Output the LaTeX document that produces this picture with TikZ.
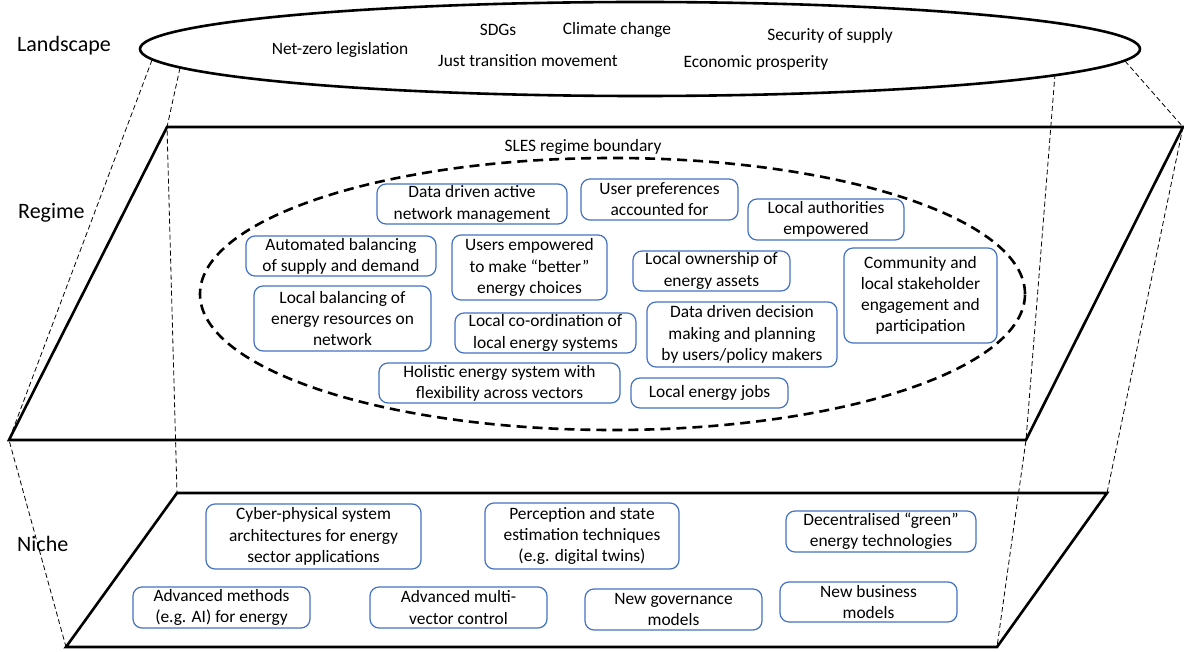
\documentclass[tikz,border=0pt]{standalone}
\usepackage{fontspec}
\setmainfont{Carlito}
\usetikzlibrary{shapes.geometric}
\definecolor{boxblue}{RGB}{68,114,196}
\begin{document}
\begin{tikzpicture}[x=1pt,y=-1pt,
  every node/.style={font=\fontsize{17.4}{21.2}\selectfont},
  levellabel/.style={font=\fontsize{22}{26}\selectfont, anchor=base west, inner sep=0pt},
  driver/.style={anchor=base, inner sep=0pt},
  item/.style={draw=boxblue, line width=1.2pt, rounded corners=9pt, align=center, inner sep=0pt},
  layer/.style={line width=2.6pt, line join=miter},
  guide/.style={line width=0.8pt, dash pattern=on 5pt off 3pt},
  boundary/.style={line width=2.6pt, dash pattern=on 10pt off 6pt}]

% canvas
\fill[white] (0,0) rectangle (1184,652);
\useasboundingbox (0,0) rectangle (1184,652);

% corners of the regime and niche planes
\coordinate (rTL) at (167,127);
\coordinate (rTR) at (1183,127);
\coordinate (rBR) at (1026,440);
\coordinate (rBL) at (9,440);
\coordinate (nTL) at (177,493);
\coordinate (nTR) at (1107,493);
\coordinate (nBR) at (997,647);
\coordinate (nBL) at (66,647);

% points on the landscape ellipse where the guides start
\coordinate (eL1) at (152,60);
\coordinate (eL2) at (180,68);
\coordinate (eR1) at (1125,61);
\coordinate (eR2) at (1055,74);

% thin dashed guides joining the three levels
\draw[guide] (eL1) -- (rBL) -- (nBL);
\draw[guide] (eL2) -- (rTL) -- (nTL);
\draw[guide] (eR1) -- (rTR) -- (nTR);
\draw[guide] (eR2) -- (rBR) -- (nBR);

% landscape
\node[draw, ellipse, line width=2.6pt, minimum width=1000pt, minimum height=94pt, inner sep=0pt] (land) at (640,49) {};
\node[driver] (netzero) at (340,55) {Net-zero legislation};
\node[driver] (sdgs) at (498,36) {SDGs};
\node[driver] (climate) at (617,35) {Climate change};
\node[driver] (just) at (528,67) {Just transition movement};
\node[driver] (security) at (830,41) {Security of supply};
\node[driver] (economic) at (756,68) {Economic prosperity};

% regime plane
\draw[layer] (rTL) -- (rTR) -- (rBR) -- (rBL) -- cycle;
\node[ellipse, draw, boundary, minimum width=825pt, minimum height=272pt, inner sep=0pt] (sles) at (612.5,294) {};
\node[driver] (slestitle) at (583,152) {SLES regime boundary};

\node[item, minimum width=190pt, minimum height=40pt] (dana) at (472,204) {Data driven active\\network management};
\node[item, minimum width=157pt, minimum height=41pt] (upref) at (659.5,199.5) {User preferences\\accounted for};
\node[item, minimum width=156pt, minimum height=41pt] (laemp) at (826,219.5) {Local authorities\\empowered};
\node[item, minimum width=190pt, minimum height=40pt] (autobal) at (341,256) {Automated balancing\\of supply and demand};
\node[item, minimum width=155pt, minimum height=65pt] (usersemp) at (529.5,267.5) {Users empowered\\to make “better”\\energy choices};
\node[item, minimum width=157pt, minimum height=40pt] (lown) at (711.5,271) {Local ownership of\\energy assets};
\node[item, minimum width=153pt, minimum height=95pt] (comm) at (920.5,295.5) {Community and\\local stakeholder\\engagement and\\participation};
\node[item, minimum width=177pt, minimum height=65pt] (lbal) at (342.5,318.5) {Local balancing of\\energy resources on\\network};
\node[item, minimum width=181pt, minimum height=40pt] (lcoord) at (545.5,333) {Local co-ordination of\\local energy systems};
\node[item, minimum width=190pt, minimum height=65pt] (ddd) at (742,334.5) {Data driven decision\\making and planning\\by users/policy makers};
\node[item, minimum width=241pt, minimum height=40pt] (holistic) at (499.5,383) {Holistic energy system with\\flexibility across vectors};
\node[item, minimum width=157pt, minimum height=30pt] (ljobs) at (709.5,393) {Local energy jobs};

% niche plane
\draw[layer] (nTL) -- (nTR) -- (nBR) -- (nBL) -- cycle;
\node[item, minimum width=215pt, minimum height=65pt] (cyber) at (313.5,536.5) {Cyber-physical system\\architectures for energy\\sector applications};
\node[item, minimum width=194pt, minimum height=66pt] (percep) at (582,536) {Perception and state\\estimation techniques\\(e.g. digital twins)};
\node[item, minimum width=190pt, minimum height=41pt] (decent) at (881,531.5) {Decentralised “green”\\energy technologies};
\node[item, minimum width=177pt, minimum height=41pt] (advm) at (221.5,607.5) {Advanced methods\\(e.g. AI) for energy};
\node[item, minimum width=177pt, minimum height=41pt] (advmv) at (458.5,607.5) {Advanced multi-\\vector control};
\node[item, minimum width=177pt, minimum height=41pt] (gov) at (673.5,609.5) {New governance\\models};
\node[item, minimum width=177pt, minimum height=40pt] (bus) at (868.5,602) {New business\\models};

% level names
\node[levellabel] (lland) at (17,52) {Landscape};
\node[levellabel] (lreg) at (18,219) {Regime};
\node[levellabel] (lniche) at (17,551) {Niche};
\end{tikzpicture}
\end{document}
